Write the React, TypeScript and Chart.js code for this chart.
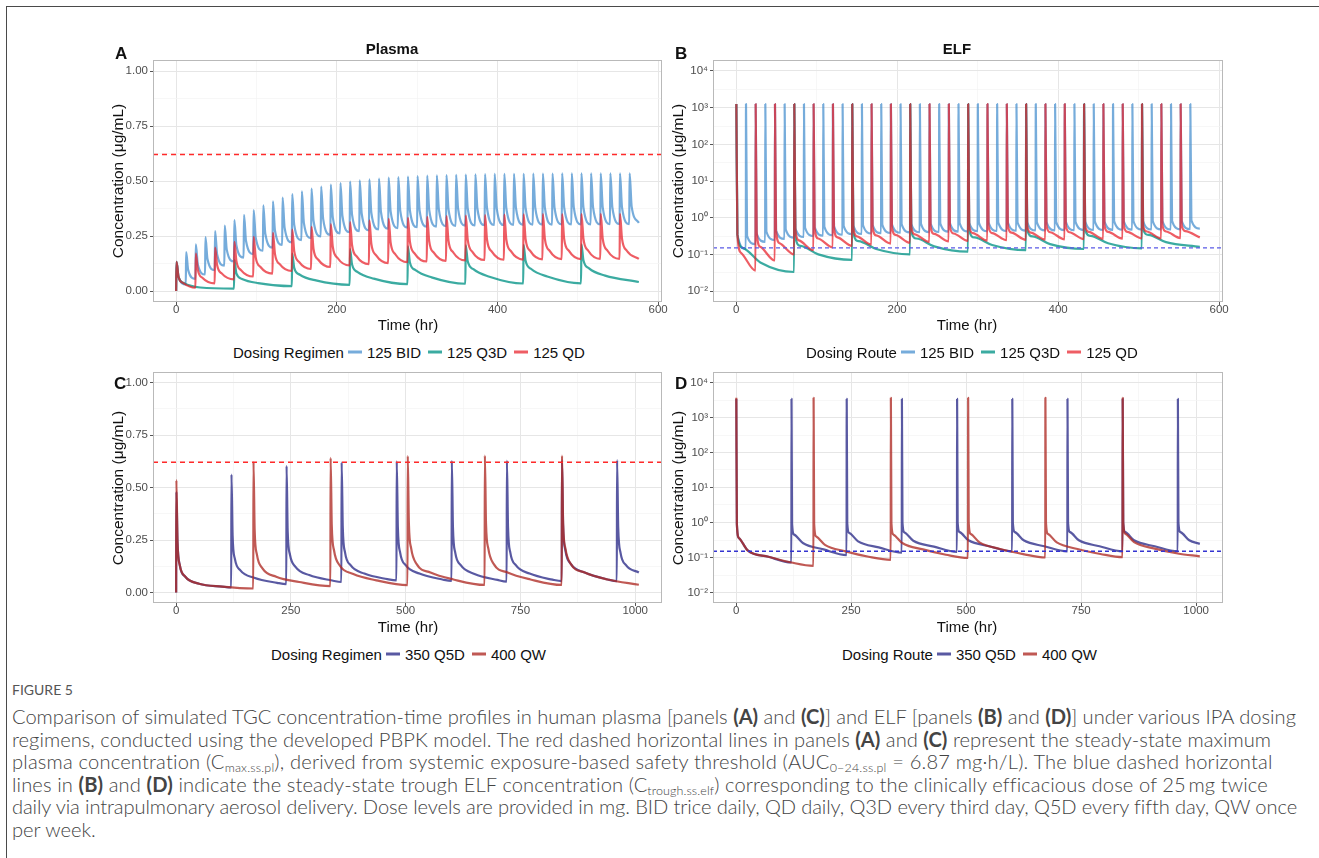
import React, { useEffect, useLayoutEffect, useRef } from "react";
import { Chart, registerables } from "chart.js";

Chart.register(...registerables);

const FONT = "'Liberation Sans', Arial, Helvetica, sans-serif";
Chart.defaults.font.family = FONT;

// ---------------- dose schedules (hours) ----------------
const DOSES_BID = [0, 12, 24, 36, 48, 60, 72, 84, 96, 108, 120, 132, 144, 156, 168, 180, 192, 204, 216, 228, 240, 252, 264, 276, 288, 300, 312, 324, 336, 348, 360, 372, 384, 396, 408, 420, 432, 444, 456, 468, 480, 492, 504, 516, 528, 540, 552, 564];
const DOSES_QD = [0, 24, 48, 72, 96, 120, 144, 168, 192, 216, 240, 264, 288, 312, 336, 360, 384, 408, 432, 456, 480, 504, 528, 552];
const DOSES_Q3D = [0, 72, 144, 216, 288, 360, 432, 504];
const END_AB = 576;
const DOSES_Q5D = [0, 120, 240, 360, 480, 600, 720, 840, 960];
const DOSES_QW = [0, 168, 336, 504, 672, 840];
const END_CD = 1008;

// reference lines
const PLASMA_SAFETY = 0.62;
const ELF_TARGET = 0.15;

// ---------------- Panel A : plasma, 125 mg ----------------
const A_BID_PEAK = [0.133, 0.177, 0.212, 0.245, 0.272, 0.297, 0.322, 0.346, 0.368, 0.389, 0.408, 0.425, 0.44, 0.453, 0.465, 0.475, 0.484, 0.491, 0.497, 0.503, 0.507, 0.511, 0.515, 0.518, 0.52, 0.522, 0.524, 0.526, 0.527, 0.528, 0.529, 0.53, 0.531, 0.532, 0.532, 0.533, 0.533, 0.534, 0.534, 0.534, 0.535, 0.535, 0.535, 0.535, 0.535, 0.535, 0.535, 0.535];
const A_BID_K3H = [0.064, 0.095, 0.12, 0.145, 0.167, 0.188, 0.208, 0.227, 0.244, 0.26, 0.275, 0.288, 0.3, 0.31, 0.32, 0.328, 0.335, 0.341, 0.346, 0.351, 0.355, 0.358, 0.362, 0.364, 0.366, 0.368, 0.369, 0.371, 0.372, 0.373, 0.374, 0.375, 0.376, 0.377, 0.377, 0.378, 0.378, 0.379, 0.379, 0.379, 0.38, 0.38, 0.38, 0.38, 0.38, 0.38, 0.38, 0.385];
const A_BID_TROUGH = [0.03, 0.055, 0.075, 0.095, 0.115, 0.134, 0.152, 0.168, 0.183, 0.197, 0.21, 0.221, 0.231, 0.24, 0.248, 0.255, 0.262, 0.267, 0.272, 0.276, 0.28, 0.283, 0.286, 0.288, 0.29, 0.292, 0.293, 0.295, 0.296, 0.297, 0.298, 0.299, 0.3, 0.3, 0.301, 0.301, 0.302, 0.302, 0.302, 0.303, 0.303, 0.303, 0.303, 0.303, 0.304, 0.304, 0.304, 0.31];

const A_QD_PEAK = [0.133, 0.17, 0.197, 0.223, 0.246, 0.264, 0.279, 0.292, 0.304, 0.313, 0.321, 0.328, 0.333, 0.337, 0.34, 0.343, 0.345, 0.347, 0.348, 0.349, 0.35, 0.35, 0.351, 0.351];
const A_QD_K3H = [0.064, 0.096, 0.118, 0.137, 0.154, 0.169, 0.181, 0.191, 0.201, 0.208, 0.214, 0.22, 0.224, 0.227, 0.229, 0.232, 0.233, 0.235, 0.236, 0.237, 0.237, 0.238, 0.238, 0.238];
const A_QD_K9H = [0.036, 0.059, 0.079, 0.094, 0.109, 0.122, 0.132, 0.142, 0.15, 0.156, 0.162, 0.166, 0.17, 0.173, 0.175, 0.177, 0.179, 0.18, 0.181, 0.182, 0.182, 0.183, 0.183, 0.183];
const A_QD_TROUGH = [0.015, 0.035, 0.053, 0.066, 0.079, 0.091, 0.1, 0.109, 0.116, 0.122, 0.127, 0.131, 0.134, 0.137, 0.139, 0.141, 0.142, 0.143, 0.144, 0.145, 0.145, 0.146, 0.146, 0.146];

const A_Q3D_PEAK = [0.133, 0.14, 0.17, 0.19, 0.203, 0.208, 0.21, 0.212];
const A_Q3D_K3H = [0.064, 0.08, 0.105, 0.12, 0.13, 0.135, 0.137, 0.14];
const A_Q3D_K10H = [0.035, 0.055, 0.074, 0.086, 0.095, 0.099, 0.1, 0.103];
const A_Q3D_K30H = [0.016, 0.036, 0.048, 0.056, 0.062, 0.065, 0.066, 0.07];
const A_Q3D_TROUGH = [0.011, 0.022, 0.028, 0.031, 0.033, 0.034, 0.035, 0.041];

// ---------------- Panel B : ELF, 125 mg ----------------
const B_BID_PEAK = [1250, 1250, 1250, 1250, 1250, 1250, 1250, 1250, 1250, 1250, 1250, 1250, 1250, 1250, 1250, 1250, 1250, 1250, 1250, 1250, 1250, 1250, 1250, 1250, 1250, 1250, 1250, 1250, 1250, 1250, 1250, 1250, 1250, 1250, 1250, 1250, 1250, 1250, 1250, 1250, 1250, 1250, 1250, 1250, 1250, 1250, 1250, 1250];
const B_BID_K1H = [0.35, 0.32, 0.37, 0.42, 0.45, 0.48, 0.51, 0.54, 0.55, 0.57, 0.59, 0.6, 0.62, 0.63, 0.64, 0.65, 0.66, 0.67, 0.68, 0.69, 0.7, 0.7, 0.71, 0.72, 0.72, 0.73, 0.74, 0.74, 0.75, 0.75, 0.76, 0.76, 0.77, 0.77, 0.78, 0.78, 0.79, 0.79, 0.79, 0.8, 0.8, 0.81, 0.81, 0.81, 0.82, 0.82, 0.82, 0.85];
const B_BID_TROUGH = [0.14, 0.19, 0.22, 0.245, 0.265, 0.285, 0.3, 0.315, 0.325, 0.335, 0.345, 0.355, 0.362, 0.37, 0.377, 0.383, 0.389, 0.395, 0.4, 0.405, 0.41, 0.414, 0.418, 0.422, 0.426, 0.43, 0.433, 0.436, 0.44, 0.443, 0.446, 0.449, 0.452, 0.455, 0.457, 0.46, 0.462, 0.465, 0.467, 0.47, 0.472, 0.474, 0.476, 0.478, 0.48, 0.482, 0.484, 0.5];

const B_QD_PEAK = [1250, 1250, 1250, 1250, 1250, 1250, 1250, 1250, 1250, 1250, 1250, 1250, 1250, 1250, 1250, 1250, 1250, 1250, 1250, 1250, 1250, 1250, 1250, 1250];
const B_QD_K1H = [0.35, 0.4, 0.45, 0.48, 0.5, 0.52, 0.53, 0.54, 0.55, 0.56, 0.57, 0.57, 0.58, 0.58, 0.59, 0.59, 0.6, 0.6, 0.6, 0.61, 0.61, 0.61, 0.62, 0.62];
const B_QD_K6H = [0.11, 0.16, 0.2, 0.24, 0.27, 0.29, 0.31, 0.33, 0.34, 0.35, 0.36, 0.37, 0.38, 0.38, 0.39, 0.39, 0.4, 0.4, 0.41, 0.41, 0.41, 0.42, 0.42, 0.43];
const B_QD_TROUGH = [0.036, 0.068, 0.1, 0.13, 0.155, 0.17, 0.185, 0.197, 0.207, 0.216, 0.224, 0.231, 0.237, 0.243, 0.248, 0.253, 0.257, 0.261, 0.265, 0.268, 0.271, 0.274, 0.277, 0.29];

const B_Q3D_PEAK = [1250, 1250, 1250, 1250, 1250, 1250, 1250, 1250];
const B_Q3D_K1H = [0.35, 0.3, 0.38, 0.42, 0.45, 0.47, 0.48, 0.5];
const B_Q3D_K8H = [0.15, 0.17, 0.23, 0.27, 0.29, 0.31, 0.32, 0.34];
const B_Q3D_K30H = [0.06, 0.1, 0.14, 0.165, 0.18, 0.19, 0.2, 0.215];
const B_Q3D_TROUGH = [0.033, 0.071, 0.1, 0.118, 0.13, 0.14, 0.145, 0.16];

// ---------------- Panel C : plasma, 350 Q5D / 400 QW ----------------
const C_Q5D_PEAK = [0.48, 0.562, 0.603, 0.619, 0.625, 0.627, 0.628, 0.63, 0.63];
const C_Q5D_K3H = [0.24, 0.27, 0.29, 0.31, 0.31, 0.31, 0.31, 0.32, 0.31];
const C_Q5D_K8H = [0.13, 0.16, 0.18, 0.19, 0.19, 0.19, 0.19, 0.2, 0.19];
const C_Q5D_K20H = [0.075, 0.105, 0.122, 0.13, 0.13, 0.13, 0.13, 0.135, 0.13];
const C_Q5D_K50H = [0.042, 0.07, 0.083, 0.09, 0.09, 0.088, 0.09, 0.095, 0.09];
const C_Q5D_K100H = [0.028, 0.046, 0.057, 0.064, 0.062, 0.06, 0.061, 0.062, 0.06];
const C_Q5D_TROUGH = [0.024, 0.04, 0.05, 0.058, 0.055, 0.052, 0.054, 0.054, 0.095];

const C_QW_PEAK = [0.535, 0.62, 0.641, 0.65, 0.652, 0.652];
const C_QW_K3H = [0.24, 0.3, 0.32, 0.33, 0.33, 0.33];
const C_QW_K8H = [0.13, 0.18, 0.2, 0.21, 0.21, 0.21];
const C_QW_K20H = [0.075, 0.115, 0.13, 0.135, 0.135, 0.135];
const C_QW_K50H = [0.042, 0.075, 0.088, 0.095, 0.095, 0.095];
const C_QW_K100H = [0.028, 0.05, 0.058, 0.062, 0.062, 0.062];
const C_QW_TROUGH = [0.019, 0.03, 0.035, 0.036, 0.036, 0.037];

// ---------------- Panel D : ELF, 350 Q5D / 400 QW ----------------
const D_Q5D_PEAK = [3400, 3400, 3400, 3400, 3400, 3400, 3400, 3400, 3400];
const D_Q5D_K1H = [0.9, 0.9, 0.95, 1.0, 1.0, 1.0, 1.0, 1.0, 1.0];
const D_Q5D_K6H = [0.36, 0.45, 0.5, 0.52, 0.53, 0.53, 0.53, 0.53, 0.53];
const D_Q5D_K25H = [0.16, 0.26, 0.29, 0.3, 0.31, 0.31, 0.31, 0.31, 0.31];
const D_Q5D_K70H = [0.105, 0.17, 0.195, 0.205, 0.21, 0.21, 0.21, 0.21, 0.21];
const D_Q5D_TROUGH = [0.072, 0.117, 0.138, 0.145, 0.15, 0.15, 0.15, 0.15, 0.245];

const D_QW_PEAK = [3650, 3650, 3650, 3650, 3650, 3650];
const D_QW_K1H = [0.9, 0.9, 0.95, 1.0, 1.0, 1.0];
const D_QW_K6H = [0.36, 0.4, 0.45, 0.47, 0.47, 0.48];
const D_QW_K25H = [0.16, 0.23, 0.26, 0.27, 0.27, 0.275];
const D_QW_K70H = [0.105, 0.15, 0.17, 0.175, 0.175, 0.18];
const D_QW_K120H = [0.072, 0.105, 0.12, 0.125, 0.126, 0.13];
const D_QW_TROUGH = [0.058, 0.086, 0.097, 0.1, 0.102, 0.108];

// ---------------- axes ----------------
const AB_X_TICKS = [0, 100, 200, 300, 400, 500, 600];
const AB_X_LABELS = [0, 200, 400, 600];
const CD_X_TICKS = [0, 125, 250, 375, 500, 625, 750, 875, 1000];
const CD_X_LABELS = [0, 250, 500, 750, 1000];
const PLASMA_Y_TICKS = [0, 0.125, 0.25, 0.375, 0.5, 0.625, 0.75, 0.875, 1];
const PLASMA_Y_LABELS = [0, 0.25, 0.5, 0.75, 1];
const ELF_Y_EXPONENTS = [-2, -1.5, -1, -0.5, 0, 0.5, 1, 1.5, 2, 2.5, 3, 3.5, 4];

// ---------------- colours ----------------
const C_BID = "rgba(65,140,205,0.72)";
const C_Q3D = "rgba(10,150,138,0.8)";
const C_QD = "rgba(232,30,40,0.72)";
const C_Q5D = "rgba(42,42,136,0.78)";
const C_QW = "rgba(174,42,36,0.78)";
const GRID_MAJOR = "#e6e6e6";
const GRID_MINOR = "#f3f3f3";

type Pt = { x: number; y: number };

function profile(doses: number[], end: number, start: number | null, peakOff: number, peaks: number[], kneeOffs: number[], knees: number[][], troughs: number[]): Pt[] {
  const pts: Pt[] = [];
  if (start !== null) pts.push({ x: doses[0], y: start });
  doses.forEach((d, i) => {
    const next = i + 1 < doses.length ? doses[i + 1] : end;
    pts.push({ x: d + peakOff, y: peaks[i] });
    kneeOffs.forEach((o, j) => {
      if (d + o < next) pts.push({ x: d + o, y: knees[j][i] });
    });
    pts.push({ x: next, y: troughs[i] });
  });
  return pts;
}

function lineDs(label: string, data: Pt[], color: string, width = 2.2) {
  return {
    label, data, borderColor: color, backgroundColor: color, borderWidth: width,
    pointRadius: 0, pointHoverRadius: 0, fill: false,
    cubicInterpolationMode: "monotone", borderJoinStyle: "round",
  };
}

function hline(v: number, x0: number, x1: number, color: string, dash: number[], width: number) {
  return {
    label: "ref", data: [{ x: x0, y: v }, { x: x1, y: v }], borderColor: color, borderWidth: width,
    borderDash: dash, pointRadius: 0, fill: false, tension: 0,
  };
}

const SUP: Record<string, string> = { "-": "\u207B", "0": "\u2070", "1": "\u00B9", "2": "\u00B2", "3": "\u00B3", "4": "\u2074" };
const supText = (n: number) => String(n).split("").map((c) => SUP[c]).join("");
const near = (a: number, list: number[]) => list.some((b) => Math.abs(a - b) < 1e-9);
const isDecade = (v: number) => { const e = Math.log10(v); return Math.abs(e - Math.round(e)) < 1e-6; };

const panelBorder = {
  id: "panelBorder",
  afterDatasetsDraw(chart: any) {
    const { ctx, chartArea: a } = chart;
    ctx.save();
    ctx.strokeStyle = "#b9b9b9";
    ctx.lineWidth = 1;
    ctx.strokeRect(Math.round(a.left) + 0.5, Math.round(a.top) + 0.5, Math.round(a.right - a.left) - 1, Math.round(a.bottom - a.top) - 1);
    ctx.restore();
  },
};

const TICK_FONT = { size: 11.5, family: FONT };

function gridOpts(major: (c: any) => boolean) {
  return {
    color: (c: any) => (major(c) ? GRID_MAJOR : GRID_MINOR),
    lineWidth: (c: any) => (major(c) ? 1 : 0.7),
    tickColor: (c: any) => (major(c) ? "#555" : "rgba(0,0,0,0)"),
    tickLength: 3, drawTicks: true,
  };
}

function xAxis(min: number, max: number, ticks: number[], labels: number[]) {
  const major = (c: any) => near(c.tick ? c.tick.value : NaN, labels);
  return {
    type: "linear", min, max,
    afterBuildTicks: (s: any) => { s.ticks = ticks.map((v) => ({ value: v })); },
    afterFit: (s: any) => { s.height = 20; },
    ticks: {
      autoSkip: false, maxRotation: 0, minRotation: 0, padding: -2, color: "#4d4d4d",
      font: TICK_FONT,
      callback: (v: number) => (near(v, labels) ? String(v) : ""),
    },
    grid: gridOpts(major),
    border: { display: false },
  };
}

function yLinear() {
  const major = (c: any) => near(c.tick ? c.tick.value : NaN, PLASMA_Y_LABELS);
  return {
    type: "linear", min: -0.05, max: 1.05,
    afterBuildTicks: (s: any) => { s.ticks = PLASMA_Y_TICKS.map((v) => ({ value: v })); },
    afterFit: (s: any) => { s.width = 53; },
    ticks: {
      autoSkip: false, padding: 2, color: "#4d4d4d", font: TICK_FONT,
      callback: (v: number) => (near(v, PLASMA_Y_LABELS) ? v.toFixed(2) : ""),
    },
    grid: gridOpts(major),
    border: { display: false },
  };
}

function yLog() {
  const major = (c: any) => (c.tick ? isDecade(c.tick.value) : false);
  return {
    type: "logarithmic", min: Math.pow(10, -2.3), max: Math.pow(10, 4.3),
    afterBuildTicks: (s: any) => { s.ticks = ELF_Y_EXPONENTS.map((e) => ({ value: Math.pow(10, e) })); },
    afterFit: (s: any) => { s.width = 53; },
    ticks: {
      autoSkip: false, padding: 2, color: "#4d4d4d", font: TICK_FONT,
      callback: (v: number) => (isDecade(v) ? "10" + supText(Math.round(Math.log10(v))) : ""),
    },
    grid: gridOpts(major),
    border: { display: false },
  };
}

function config(datasets: any[], x: any, y: any) {
  return {
    type: "line",
    data: { datasets },
    options: {
      animation: false, responsive: false, devicePixelRatio: 1, events: [],
      layout: { padding: { top: 10, right: 20, left: 0, bottom: 0 } },
      plugins: { legend: { display: false }, tooltip: { enabled: false }, title: { display: false } },
      scales: { x, y },
    },
    plugins: [panelBorder],
  } as any;
}

const AB_MIN = -28.8, AB_MAX = 604.8, CD_MIN = -50.4, CD_MAX = 1058.4;

function buildA() {
  return config([
    hline(PLASMA_SAFETY, AB_MIN, AB_MAX, "#ff2a2a", [5, 4], 1.5),
    lineDs("125 QD", profile(DOSES_QD, END_AB, 0, 0.5, A_QD_PEAK, [3, 9], [A_QD_K3H, A_QD_K9H], A_QD_TROUGH), C_QD),
    lineDs("125 Q3D", profile(DOSES_Q3D, END_AB, 0, 0.5, A_Q3D_PEAK, [3, 10, 30], [A_Q3D_K3H, A_Q3D_K10H, A_Q3D_K30H], A_Q3D_TROUGH), C_Q3D),
    lineDs("125 BID", profile(DOSES_BID, END_AB, 0, 0.5, A_BID_PEAK, [3], [A_BID_K3H], A_BID_TROUGH), C_BID),
  ], xAxis(AB_MIN, AB_MAX, AB_X_TICKS, AB_X_LABELS), yLinear());
}

function buildB() {
  return config([
    hline(ELF_TARGET, AB_MIN, AB_MAX, "#5a5ae6", [4, 3], 1.3),
    lineDs("125 QD", profile(DOSES_QD, END_AB, null, 0.2, B_QD_PEAK, [1.5, 6], [B_QD_K1H, B_QD_K6H], B_QD_TROUGH), C_QD),
    lineDs("125 Q3D", profile(DOSES_Q3D, END_AB, null, 0.2, B_Q3D_PEAK, [1.5, 8, 30], [B_Q3D_K1H, B_Q3D_K8H, B_Q3D_K30H], B_Q3D_TROUGH), C_Q3D),
    lineDs("125 BID", profile(DOSES_BID, END_AB, null, 0.2, B_BID_PEAK, [1.5], [B_BID_K1H], B_BID_TROUGH), C_BID),
  ], xAxis(AB_MIN, AB_MAX, AB_X_TICKS, AB_X_LABELS), yLog());
}

function buildC() {
  return config([
    hline(PLASMA_SAFETY, CD_MIN, CD_MAX, "#ff2a2a", [5, 4], 1.5),
    lineDs("400 QW", profile(DOSES_QW, END_CD, 0, 0.5, C_QW_PEAK, [3, 8, 20, 50, 100], [C_QW_K3H, C_QW_K8H, C_QW_K20H, C_QW_K50H, C_QW_K100H], C_QW_TROUGH), C_QW),
    lineDs("350 Q5D", profile(DOSES_Q5D, END_CD, 0, 0.5, C_Q5D_PEAK, [3, 8, 20, 50, 100], [C_Q5D_K3H, C_Q5D_K8H, C_Q5D_K20H, C_Q5D_K50H, C_Q5D_K100H], C_Q5D_TROUGH), C_Q5D),
  ], xAxis(CD_MIN, CD_MAX, CD_X_TICKS, CD_X_LABELS), yLinear());
}

function buildD() {
  return config([
    hline(ELF_TARGET, CD_MIN, CD_MAX, "#3434d0", [4, 3], 1.5),
    lineDs("400 QW", profile(DOSES_QW, END_CD, null, 0.3, D_QW_PEAK, [1.5, 6, 25, 70, 120], [D_QW_K1H, D_QW_K6H, D_QW_K25H, D_QW_K70H, D_QW_K120H], D_QW_TROUGH), C_QW),
    lineDs("350 Q5D", profile(DOSES_Q5D, END_CD, null, 0.3, D_Q5D_PEAK, [1.5, 6, 25, 70], [D_Q5D_K1H, D_Q5D_K6H, D_Q5D_K25H, D_Q5D_K70H], D_Q5D_TROUGH), C_Q5D),
  ], xAxis(CD_MIN, CD_MAX, CD_X_TICKS, CD_X_LABELS), yLog());
}

function ChartPanel({ left, top, width, height, build }: { left: number; top: number; width: number; height: number; build: () => any }) {
  const ref = useRef<HTMLCanvasElement>(null);
  useEffect(() => {
    const chart = new Chart(ref.current as HTMLCanvasElement, build());
    return () => chart.destroy();
  }, []);
  return <canvas ref={ref} width={width} height={height} style={{ position: "absolute", left, top, width, height }} />;
}

function T({ x, y, children, size = 15, bold = false, anchor = "middle", rotate = false, color = "#111", family = FONT }: any) {
  const tx = anchor === "middle" ? "-50%" : anchor === "end" ? "-100%" : "0";
  return (
    <div style={{
      position: "absolute", left: x, top: y, whiteSpace: "nowrap", lineHeight: 1, fontSize: size,
      fontWeight: bold ? 700 : 400, color, fontFamily: family,
      transform: `translate(${tx},-50%)${rotate ? " rotate(-90deg)" : ""}`,
    }}>{children}</div>
  );
}

function Legend({ x, y, title, items }: { x: number; y: number; title: string; items: { label: string; color: string }[] }) {
  return (
    <div style={{ position: "absolute", left: x, top: y, transform: "translateY(-50%)", display: "flex", alignItems: "center", whiteSpace: "nowrap", fontSize: 15, lineHeight: 1, fontFamily: FONT, color: "#111" }}>
      <span style={{ marginRight: 3 }}>{title}</span>
      {items.map((it) => (
        <React.Fragment key={it.label}>
          <span style={{ display: "inline-block", width: 14, height: 2.2, background: it.color, margin: "0 5px 0 1px" }} />
          <span style={{ marginRight: 6 }}>{it.label}</span>
        </React.Fragment>
      ))}
    </div>
  );
}

const CAPTION_LINE_Y = [716, 738.5, 761, 783.5, 806, 828.5];
const CAPTION_LINE_END = [1297, 1271, 1273, 1267, 1296];
const CAPTION_LEFT = 12;

function Caption() {
  const ref = useRef<HTMLDivElement>(null);
  useLayoutEffect(() => {
    const el = ref.current;
    if (!el) return;
    const lines = Array.from(el.querySelectorAll("[data-line]")) as HTMLElement[];
    const w0 = lines[0].getBoundingClientRect().width;
    if (w0 > 0) el.style.fontSize = (17.5 * (CAPTION_LINE_END[0] - CAPTION_LEFT)) / w0 + "px";
    lines.forEach((ln, i) => {
      if (i === 0 || i >= CAPTION_LINE_END.length) return;
      const w = ln.getBoundingClientRect().width;
      const n = (ln.textContent || "").length;
      if (n > 1) ln.style.letterSpacing = (CAPTION_LINE_END[i] - CAPTION_LEFT - w) / n + "px";
    });
  }, []);
  const sub = (s: string) => <sub style={{ fontSize: "0.62em", verticalAlign: "-0.25em", lineHeight: 0 }}>{s}</sub>;
  const b = (s: string) => <b style={{ fontWeight: 700 }}>{s}</b>;
  const lines = [
    <>Comparison of simulated TGC concentration-time profiles in human plasma [panels {b("(A)")} and {b("(C)")}] and ELF [panels {b("(B)")} and {b("(D)")}] under various IPA dosing</>,
    <>regimens, conducted using the developed PBPK model. The red dashed horizontal lines in panels {b("(A)")} and {b("(C)")} represent the steady-state maximum</>,
    <>plasma concentration (C{sub("max.ss.pl")}), derived from systemic exposure-based safety threshold (AUC{sub("0\u221224.ss.pl")} = 6.87 mg·h/L). The blue dashed horizontal</>,
    <>lines in {b("(B)")} and {b("(D)")} indicate the steady-state trough ELF concentration (C{sub("trough.ss.elf")}) corresponding to the clinically efficacious dose of 25{"\u2009"}mg twice</>,
    <>daily via intrapulmonary aerosol delivery. Dose levels are provided in mg. BID trice daily, QD daily, Q3D every third day, Q5D every fifth day, QW once</>,
    <>per week.</>,
  ];
  return (
    <div ref={ref} style={{ position: "absolute", left: 0, top: 0, fontFamily: "Lato, 'Open Sans', sans-serif", fontWeight: 300, fontSize: 17.5, color: "#444" }}>
      {lines.map((l, i) => (
        <div key={i} data-line={i} style={{ position: "absolute", left: CAPTION_LEFT, top: CAPTION_LINE_Y[i], transform: "translateY(-50%)", whiteSpace: "nowrap", lineHeight: 1 }}>{l}</div>
      ))}
    </div>
  );
}

export default function App() {
  return (
    <div style={{ position: "fixed", left: 0, top: 0, width: 1319, height: 858, overflow: "hidden", background: "#fff" }}>
      <div style={{ position: "absolute", left: 6, top: 6, width: 1400, height: 1000, borderLeft: "1.5px solid #4a4a4a", borderTop: "1.5px solid #4a4a4a" }} />

      <ChartPanel left={100} top={50} width={582} height={272} build={buildA} />
      <ChartPanel left={660} top={50} width={583} height={272} build={buildB} />
      <ChartPanel left={100} top={362} width={582} height={261} build={buildC} />
      <ChartPanel left={660} top={362} width={583} height={261} build={buildD} />

      <T x={115} y={52.5} size={17} bold anchor="start">A</T>
      <T x={675} y={52.5} size={17} bold anchor="start">B</T>
      <T x={114} y={382.5} size={17} bold anchor="start">C</T>
      <T x={675} y={382.5} size={17} bold anchor="start">D</T>

      <T x={392} y={47.5} size={15} bold>Plasma</T>
      <T x={957} y={47.5} size={15} bold>ELF</T>

      <T x={118} y={181} size={15.5} rotate>Concentration (μg/mL)</T>
      <T x={678} y={181} size={15.5} rotate>Concentration (μg/mL)</T>
      <T x={118} y={487.5} size={15.5} rotate>Concentration (μg/mL)</T>
      <T x={678} y={487.5} size={15.5} rotate>Concentration (μg/mL)</T>

      <T x={408} y={323.5} size={15}>Time (hr)</T>
      <T x={967} y={323.5} size={15}>Time (hr)</T>
      <T x={408} y={626} size={15}>Time (hr)</T>
      <T x={967} y={626} size={15}>Time (hr)</T>

      <Legend x={233} y={352} title="Dosing Regimen" items={[{ label: "125 BID", color: C_BID }, { label: "125 Q3D", color: C_Q3D }, { label: "125 QD", color: C_QD }]} />
      <Legend x={806} y={352} title="Dosing Route" items={[{ label: "125 BID", color: C_BID }, { label: "125 Q3D", color: C_Q3D }, { label: "125 QD", color: C_QD }]} />
      <Legend x={271} y={654} title="Dosing Regimen" items={[{ label: "350 Q5D", color: C_Q5D }, { label: "400 QW", color: C_QW }]} />
      <Legend x={842} y={654} title="Dosing Route" items={[{ label: "350 Q5D", color: C_Q5D }, { label: "400 QW", color: C_QW }]} />

      <T x={12} y={690} size={14} anchor="start" color="#555" family="Lato, 'Open Sans', sans-serif">FIGURE 5</T>
      <Caption />
    </div>
  );
}
